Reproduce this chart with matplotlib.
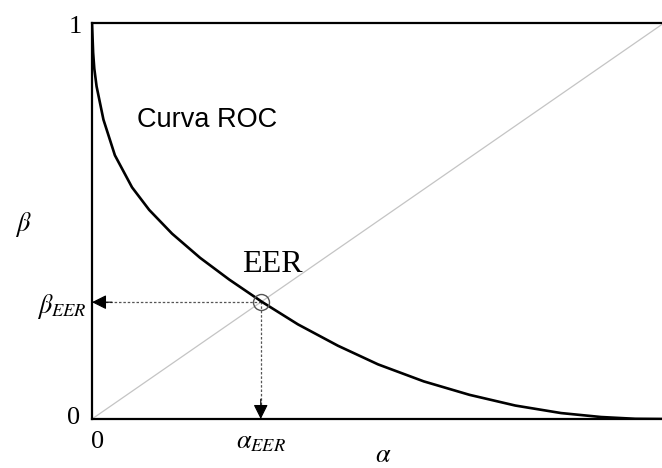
import matplotlib.pyplot as plt

alpha_roc = [0.0, 0.002, 0.004, 0.008, 0.02, 0.04, 0.07, 0.10, 0.14, 0.189, 0.24,
             0.298, 0.36, 0.43, 0.50, 0.58, 0.66, 0.74, 0.82, 0.89, 0.95, 1.0]
beta_roc = [1.0, 0.925, 0.885, 0.84, 0.756, 0.666, 0.585, 0.528, 0.468, 0.407, 0.352,
            0.295, 0.239, 0.185, 0.138, 0.095, 0.061, 0.034, 0.015, 0.005, 0.0005, 0.0]
eer = 0.295

plt.rcParams['mathtext.fontset'] = 'stix'
serif = 'Liberation Serif'

fig = plt.figure(figsize=(6.62, 4.68), dpi=100)
ax = fig.add_axes([92 / 662, 49 / 468, 572 / 662, 396 / 468])
ax.set_xlim(0, 1)
ax.set_ylim(0, 1)

# diagonal
ax.plot([0, 1], [0, 1], color='#c4c4c4', lw=0.9, zorder=1)
# curva ROC
ax.plot(alpha_roc, beta_roc, color='black', lw=1.9, zorder=3,
        solid_joinstyle='round')

# líneas de proyección del EER
ax.plot([0.015, eer], [eer, eer], color='#555555', lw=0.9, ls=(0, (2, 1.5)), zorder=2)
ax.plot([eer, eer], [0.025, eer], color='#555555', lw=0.9, ls=(0, (2, 1.5)), zorder=2)
ax.annotate('', xy=(0, eer), xytext=(0.035, eer),
            arrowprops=dict(arrowstyle='-|>', mutation_scale=22, color='black',
                            lw=0.8, shrinkA=0, shrinkB=0), zorder=4)
ax.annotate('', xy=(eer, 0), xytext=(eer, 0.05),
            arrowprops=dict(arrowstyle='-|>', mutation_scale=22, color='black',
                            lw=0.8, shrinkA=0, shrinkB=0), zorder=4)
ax.plot([eer], [eer], marker='o', ms=11.5, mfc='none', mec='#555555', mew=1.0, zorder=5)

for s in ax.spines.values():
    s.set_linewidth(1.6)
ax.set_xticks([])
ax.set_yticks([])

# textos
ax.text(0.079, 0.755, 'Curva ROC', family='Liberation Sans', fontsize=19.5, va='center')
ax.text(0.316, 0.39, 'EER', family=serif, fontsize=23, va='center', ha='center')

ax.text(-0.03, 0.99, '1', family=serif, fontsize=19, ha='center', va='center')
ax.text(-0.032, 0.003, '0', family=serif, fontsize=19, ha='center', va='center')
ax.text(0.009, -0.058, '0', family=serif, fontsize=19, ha='center', va='center')
ax.text(1.012, -0.058, '1', family=serif, fontsize=19, ha='center', va='center')
ax.text(eer, -0.056, r'$\alpha_{EER}$', fontsize=19, ha='center', va='center')
ax.text(-0.009, eer - 0.012, r'$\beta_{EER}$', fontsize=19, ha='right', va='center')
ax.text(-0.12, 0.49, r'$\beta$', fontsize=19, ha='center', va='center')
ax.text(0.51, -0.092, r'$\alpha$', fontsize=19, ha='center', va='center')

fig.savefig('out.png', dpi=100)
